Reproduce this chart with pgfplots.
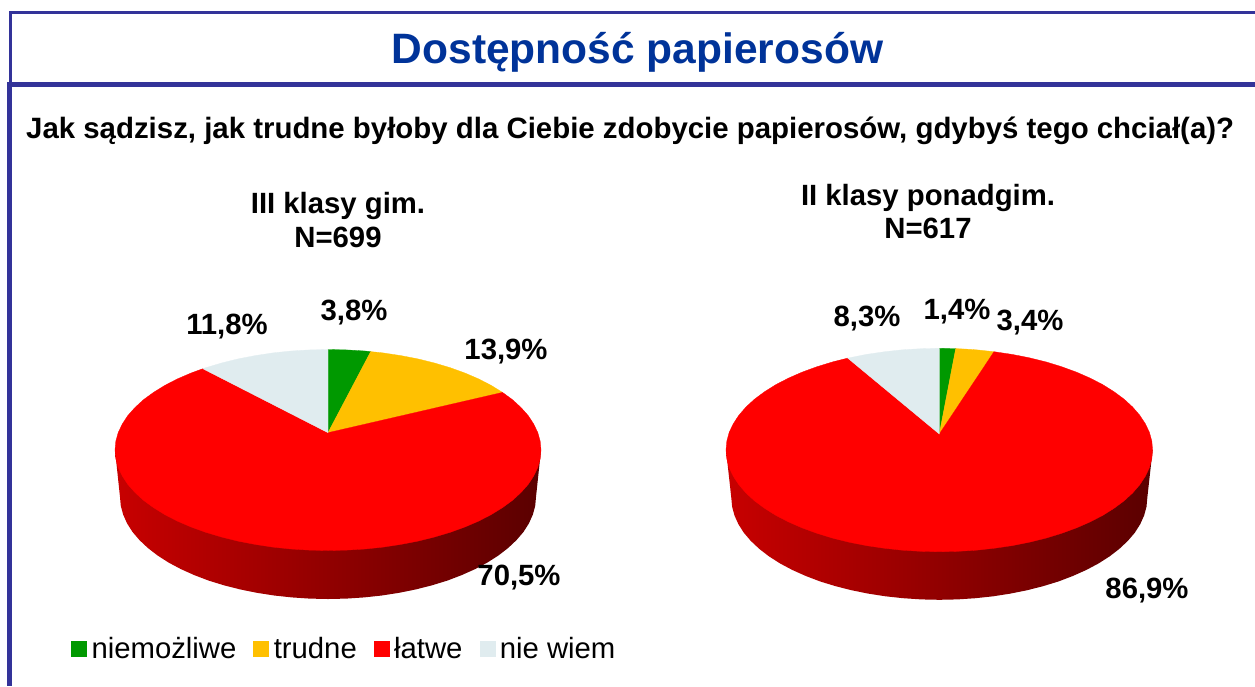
\documentclass[border=0pt]{standalone}
\usepackage{fontspec}
\setmainfont{Liberation Sans}
\usepackage{pgfplots}
\pgfplotsset{compat=1.18}
\definecolor{frame}{HTML}{333399}
\definecolor{titleblue}{HTML}{003399}
\definecolor{cgreen}{HTML}{009900}
\definecolor{cyellow}{HTML}{FFC000}
\definecolor{cred}{HTML}{FF0000}
\definecolor{clight}{HTML}{E0ECEF}
\definecolor{sideL}{HTML}{C80000}
\definecolor{sideR}{HTML}{5A0000}
\newcommand{\lab}{\fontsize{29.3}{33}\selectfont\bfseries}
\begin{document}
\begin{tikzpicture}
\path[use as bounding box] (0,0) rectangle (1255pt,686pt);
\begin{axis}[
  hide axis, scale only axis, width=1255pt, height=686pt,
  xmin=0, xmax=1255, ymin=0, ymax=686, y dir=reverse, clip=false,
  legend image code/.code={\fill[#1] (0pt,-7.5pt) rectangle (15pt,7.5pt);},
  legend columns=4,
  legend style={draw=none, fill=none, at={(0.0566,0.0540)}, anchor=west, inner sep=0pt,
    font=\fontsize{29.3}{33}\selectfont,
    /tikz/every even column/.append style={column sep=12pt},
    nodes={inner xsep=5pt}},
]
% frame
\addplot[frame, line width=3pt, forget plot] coordinates {(1255,12.5) (10.7,12.5) (10.7,84)};
\addplot[frame, line width=5pt, forget plot] coordinates {(1255,84) (9.5,84) (9.5,686)};

% left pie, side
\addplot[draw=none, left color=sideL, right color=sideR, forget plot] coordinates {
  (115,450) (120,497) (120.8,505.9) (123.2,514.7) (127.1,523.4) (132.5,531.9) (139.5,540.1)
  (147.9,548) (157.6,555.5) (168.7,562.6) (180.9,569.1) (194.3,575.1) (208.7,580.6) (224,585.3)
  (240.1,589.4) (256.9,592.8) (274.2,595.5) (291.9,597.4) (309.9,598.6) (328,599) (346.1,598.6)
  (364.1,597.4) (381.8,595.5) (399.1,592.8) (415.9,589.4) (432,585.3) (447.3,580.6) (461.7,575.1)
  (475.1,569.1) (487.3,562.6) (498.4,555.5) (508.1,548) (516.5,540.1) (523.5,531.9) (528.9,523.4)
  (532.8,514.7) (535.2,505.9) (536,497) (541,450)} --cycle;
% right pie, side
\addplot[draw=none, left color=sideL, right color=sideR, forget plot] coordinates {
  (726,450) (731.3,497.8) (732.1,506.7) (734.5,515.5) (738.4,524.2) (743.8,532.7) (750.8,540.9)
  (759.2,548.8) (768.9,556.3) (780,563.4) (792.2,569.9) (805.6,575.9) (820,581.4) (835.3,586.1)
  (851.4,590.2) (868.2,593.6) (885.5,596.3) (903.2,598.2) (921.2,599.4) (939.3,599.8) (957.4,599.4)
  (975.4,598.2) (993.1,596.3) (1010.4,593.6) (1027.2,590.2) (1043.3,586.1) (1058.6,581.4) (1073,575.9)
  (1086.4,569.9) (1098.6,563.4) (1109.7,556.3) (1119.4,548.8) (1127.8,540.9) (1134.8,532.7) (1140.2,524.2)
  (1144.1,515.5) (1146.5,506.7) (1147.3,497.8) (1152.6,450)} --cycle;

% left pie, top face
\addplot[fill=cgreen, draw=cgreen, line width=0.3pt] coordinates {
  (328,432.7) (328,349.5) (346.6,349.9) (365,351) (370.7,351.6)} --cycle;
\addlegendentry{niemożliwe}
\addplot[fill=cyellow, draw=cyellow, line width=0.3pt] coordinates {
  (328,432.7) (370.7,351.6) (383.1,352.9) (400.8,355.6) (418,358.9) (434.5,363) (450.2,367.7)
  (464.9,373) (478.6,378.9) (491.2,385.4) (502.5,392.4)} --cycle;
\addlegendentry{trudne}
\addplot[fill=cred, draw=cred, line width=0.3pt] coordinates {
  (328,432.7) (502.5,392.4) (512.5,399.7) (521,407.5) (528.2,415.6) (533.7,424) (537.8,432.6)
  (540.2,441.2) (541,450) (540.2,458.8) (537.8,467.4) (533.7,476) (528.2,484.4) (521,492.5)
  (512.5,500.3) (502.5,507.6) (491.2,514.6) (478.6,521.1) (464.9,527) (450.2,532.3) (434.5,537)
  (418,541.1) (400.8,544.4) (383.1,547.1) (365,549) (346.6,550.1) (328,550.5) (309.4,550.1)
  (291,549) (272.9,547.1) (255.2,544.4) (238,541.1) (221.5,537) (205.8,532.3) (191.1,527)
  (177.4,521.1) (164.8,514.6) (153.5,507.6) (143.5,500.3) (135,492.5) (127.8,484.4) (122.3,476)
  (118.2,467.4) (115.8,458.8) (115,450) (115.8,441.2) (118.2,432.6) (122.3,424) (127.8,415.6)
  (135,407.5) (143.5,399.7) (153.5,392.4) (164.8,385.4) (177.4,378.9) (191.1,373) (202.8,368.7)} --cycle;
\addlegendentry{łatwe}
\addplot[fill=clight, draw=clight, line width=0.3pt] coordinates {
  (328,432.7) (202.8,368.7) (205.8,367.7) (221.5,363) (238,358.9) (255.2,355.6) (272.9,352.9)
  (291,351) (309.4,349.9) (328,349.5)} --cycle;
\addlegendentry{nie wiem}

% right pie, top face
\addplot[fill=cgreen, draw=cgreen, line width=0.3pt, forget plot] coordinates {
  (939.3,434) (939.3,348.3) (955.7,348.6)} --cycle;
\addplot[fill=cyellow, draw=cyellow, line width=0.3pt, forget plot] coordinates {
  (939.3,434) (955.7,348.6) (966,349.1) (976.3,349.8) (994,351.7)} --cycle;
\addplot[fill=cred, draw=cred, line width=0.3pt, forget plot] coordinates {
  (939.3,434) (994,351.7) (1012.2,354.4) (1029.4,357.8) (1046,361.9) (1061.6,366.7) (1076.4,372.1)
  (1090.1,378.1) (1102.7,384.6) (1114,391.7) (1124,399.1) (1132.6,407) (1139.7,415.2) (1145.3,423.7)
  (1149.4,432.3) (1151.8,441.1) (1152.6,450) (1151.8,458.9) (1149.4,467.7) (1145.3,476.3) (1139.7,484.8)
  (1132.6,493) (1124,500.9) (1114,508.3) (1102.7,515.4) (1090.1,521.9) (1076.4,527.9) (1061.6,533.3)
  (1046,538.1) (1029.4,542.2) (1012.2,545.6) (994.5,548.2) (976.3,550.2) (957.9,551.3) (939.3,551.7)
  (920.7,551.3) (902.3,550.2) (884.1,548.2) (866.4,545.6) (849.2,542.2) (832.6,538.1) (817,533.3)
  (802.2,527.9) (788.5,521.9) (775.9,515.4) (764.6,508.3) (754.6,500.9) (746,493) (738.9,484.8)
  (733.3,476.3) (729.2,467.7) (726.8,458.9) (726,450) (726.8,441.1) (729.2,432.3) (733.3,423.7)
  (738.9,415.2) (746,407) (754.6,399.1) (764.6,391.7) (775.9,384.6) (788.5,378.1) (802.2,372.1)
  (817,366.7) (832.6,361.9) (847.7,358.1)} --cycle;
\addplot[fill=clight, draw=clight, line width=0.3pt, forget plot] coordinates {
  (939.3,434) (847.7,358.1) (866.4,354.4) (884.1,351.8) (902.3,349.8) (920.7,348.7) (939.3,348.3)} --cycle;

% texts
\node[anchor=base, text=titleblue, font=\fontsize{42.5}{48}\selectfont\bfseries] at (axis cs:637.5,63.5) {Dostępność papierosów};
\node[anchor=base west, inner sep=0pt, font=\fontsize{29.4}{33}\selectfont\bfseries] at (axis cs:26,138) {Jak sądzisz, jak trudne byłoby dla Ciebie zdobycie papierosów, gdybyś tego chciał(a)?};
\node[anchor=base, font=\lab] at (axis cs:338,213) {III klasy gim.};
\node[anchor=base, font=\lab] at (axis cs:338,247) {N=699};
\node[anchor=base, font=\lab] at (axis cs:928,205.5) {II klasy ponadgim.};
\node[anchor=base, font=\lab] at (axis cs:928,238) {N=617};
\node[anchor=base, font=\lab] at (axis cs:227,334) {11,8\%};
\node[anchor=base, font=\lab] at (axis cs:354,320) {3,8\%};
\node[anchor=base, font=\lab] at (axis cs:506,359.3) {13,9\%};
\node[anchor=base, font=\lab] at (axis cs:519,585) {70,5\%};
\node[anchor=base, font=\lab] at (axis cs:867,326.7) {8,3\%};
\node[anchor=base, font=\lab] at (axis cs:957,319.3) {1,4\%};
\node[anchor=base, font=\lab] at (axis cs:1030,330.7) {3,4\%};
\node[anchor=base, font=\lab] at (axis cs:1147,598.3) {86,9\%};
\end{axis}
\end{tikzpicture}
\end{document}
